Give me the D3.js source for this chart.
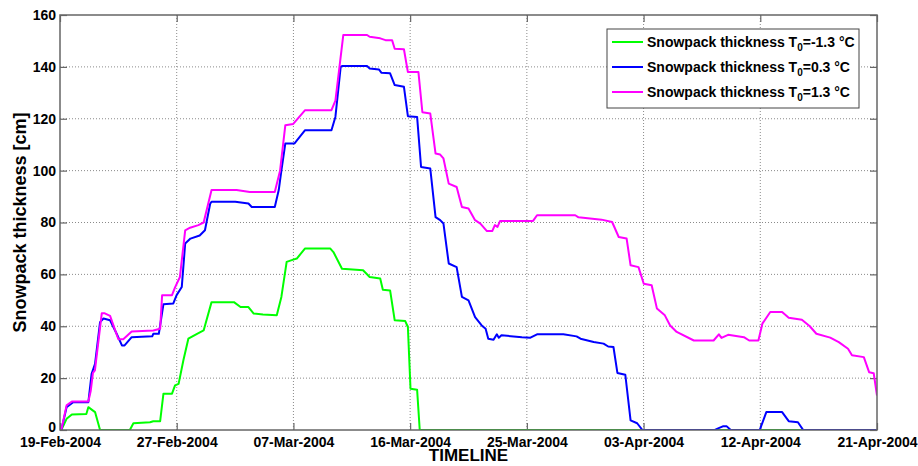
<!DOCTYPE html>
<html>
<head>
<meta charset="utf-8">
<script src="https://cdn.jsdelivr.net/npm/d3@7"></script>
<style>
  body { margin: 0; background: #fff; }
  svg { display: block; font-family: Arial, "Liberation Sans", sans-serif; }
</style>
</head>
<body>
<svg class="main" width="918" height="466"></svg>
<script>
// day offsets from 19-Feb-2004, snow thickness in cm
var snowCold = [[0.1,0],[0.5,4.3],[0.9,6],[2,6.2],[2.15,8.8],[2.66,6.9],[3.04,0],[5.3,0],[5.57,2.6],[6.83,3],[7.08,3.4],
    [7.6,3.4],[7.85,14],[8.5,14],[8.73,17.2],[9,17.8],[9.36,26.8],[9.74,35.2],[10.4,37.1],[10.9,38.4],[11.5,49.3],
    [13.2,49.3],[13.7,47.4],[14.3,47.4],[14.7,44.9],[15.4,44.5],[16.45,44.2],[16.8,51.3],[17.2,64.8],[17.7,65.7],
    [17.97,66.1],[18.6,70],[20.5,70],[20.75,68.6],[21.4,62.2],[23,61.6],[23.5,59],[24.3,58.4],[24.5,54.1],[25.05,53.8],
    [25.4,42.3],[26.2,42],[26.4,39.7],[26.6,15.9],[27.1,15.5],[27.3,0],[62,0]];

var snowMid = [[0.1,0],[0.5,8.8],[1,10.7],[2.15,10.7],[2.4,21.7],[2.66,25.5],[3.04,41.6],[3.3,43],[3.8,42.3],[4.3,37.1],
    [4.7,32.6],[4.9,32.6],[5.44,35.8],[7,36.1],[7.08,37.1],[7.5,37.1],[7.85,48.5],[8.6,48.8],[8.85,52],[9.24,55.1],
    [9.5,71.9],[9.9,73.8],[10.6,75],[11,77],[11.4,87.3],[11.5,88],[13.3,88],[14.3,87.3],[14.55,86],[16.3,86],[16.6,92.5],
    [16.8,100],[17.1,110.5],[17.8,110.5],[18.1,112.4],[18.6,115.6],[20.6,115.6],[20.9,120.7],[21.3,140],[21.4,140.3],
    [23.3,140.3],[23.5,139.4],[24.2,139],[24.4,137.7],[25.05,137.5],[25.4,133],[26.1,132.3],[26.4,121],[27.1,120.7],
    [27.4,101.4],[28.1,100.8],[28.5,82.1],[28.85,80.9],[29.1,79.6],[29.5,64.2],[30.1,62.8],[30.5,51.3],[31,50],
    [31.5,43.5],[32,40.3],[32.3,39],[32.5,35.2],[32.9,34.8],[33.15,36.9],[33.3,35.6],[33.5,36.5],[35.05,35.8],
    [35.7,35.6],[36.2,36.9],[38.2,36.9],[39.2,36.1],[39.5,35.2],[40.5,33.9],[41.25,33.3],[41.6,32.2],[42,32],[42.3,22],
    [42.9,21.3],[43.3,3.7],[43.8,2.6],[44.2,0],[49.7,0],[49.9,0.5],[50.3,1.4],[50.6,1.4],[50.9,0],[53.1,0],[53.6,6.9],
    [54.8,6.9],[55.3,3.4],[56,3],[56.4,0],[62,0]];

var snowWarm = [[0.1,0],[0.5,9.5],[0.9,11],[2.15,11],[2.33,15],[2.5,22],[2.65,23],[3.17,45],[3.4,45],[3.8,44],[4.43,35],
    [4.8,35],[5.44,38],[7.08,38.4],[7.6,39],[7.75,52],[8.5,52],[8.73,55],[9.1,59],[9.5,77],[9.87,78],[10.5,79],[10.9,80],
    [11.5,92.5],[13.4,92.5],[14.4,91.8],[16.3,91.8],[16.7,100],[17.1,117.5],[17.7,118],[18.6,123.3],[20.6,123.3],
    [20.9,127],[21.5,152.3],[23.3,152.3],[23.5,151.6],[24.3,151],[24.7,150.3],[25.2,150.3],[25.4,147],[26.1,146.8],
    [26.4,138],[27.2,138],[27.5,122.5],[28.1,122],[28.5,106.6],[28.85,106.2],[29.1,104.7],[29.5,95],[30.1,93.7],
    [30.5,86],[31,85.4],[31.5,80.9],[31.9,79.6],[32.4,76.7],[32.8,76.7],[33,79],[33.2,78.3],[33.4,80.6],[35.9,80.6],
    [36.2,82.8],[39.1,82.8],[39.35,82],[41.1,81.1],[41.9,80.2],[42.4,74.4],[43,73.8],[43.3,63.5],[43.9,62.8],[44.3,56.4],
    [44.9,55.8],[45.3,46.8],[45.9,44.2],[46.3,40.3],[46.8,37.8],[48.1,34.5],[49.6,34.5],[50,36.9],[50.2,35.5],
    [50.7,36.7],[51.9,35.8],[52.3,34.5],[53,34.5],[53.3,41],[53.9,45.5],[54.8,45.5],[55.3,43.3],[56.3,42.5],[56.9,40],
    [57.4,37.1],[58.45,35.6],[59.1,33.9],[59.8,31.3],[60.1,28.8],[61,28.1],[61.4,22.3],[61.75,21.9],[62,13.3]];

var seriesNames = ['-1.3', '0.3', '1.3'],
    seriesColors = ['#00ff00', '#0000ff', '#ff00ff'],
    yTicks = [0, 20, 40, 60, 80, 100, 120, 140, 160],
    startDate = new Date(2004, 1, 19),
    endDate = new Date(2004, 3, 21);

var margin = {top: 15, right: 41, bottom: 36, left: 60},
    width = 918 - margin.left - margin.right,
    height = 466 - margin.top - margin.bottom,
    tickLen = 7,
    dayMs = 864e5;

var svg = d3.select('.main');

var x = d3.scaleTime()
    .domain([startDate, endDate])
    .range([margin.left, margin.left + width]);

var y = d3.scaleLinear()
    .domain([0, 160])
    .range([margin.top + height, margin.top]);

// MATLAB style: 7 evenly spaced date ticks
var xTicks = d3.range(8).map(function(i) {
    return new Date(+startDate + i * (endDate - startDate) / 7);
});

function toDate(d) {
    return new Date(+startDate + d * dayMs);
}

// grid
var grid = svg.append('g').attr('class', 'grid');
grid.selectAll('.gx')
    .data(xTicks.slice(1, -1))
    .enter().append('line')
    .attr('x1', d => x(d)).attr('x2', d => x(d))
    .attr('y1', margin.top).attr('y2', margin.top + height)
    .attr('stroke', '#8a8a8a')
    .attr('stroke-dasharray', '1,2');
grid.selectAll('.gy')
    .data(yTicks.slice(1, -1))
    .enter().append('line')
    .attr('y1', d => y(d)).attr('y2', d => y(d))
    .attr('x1', margin.left).attr('x2', margin.left + width)
    .attr('stroke', '#8a8a8a')
    .attr('stroke-dasharray', '1,2');

// axes
var xAxis = d3.axisBottom(x)
    .tickValues(xTicks)
    .tickFormat(d3.timeFormat('%d-%b-%Y'))
    .tickSize(-tickLen)
    .tickPadding(7);

var yAxis = d3.axisLeft(y)
    .tickValues(yTicks)
    .tickSize(-tickLen)
    .tickPadding(4);

var gX = svg.append('g')
    .attr('transform', `translate(0,${margin.top + height})`)
    .call(xAxis);

var gY = svg.append('g')
    .attr('transform', `translate(${margin.left},0)`)
    .call(yAxis);

// mirrored ticks on top and right
svg.append('g')
    .attr('transform', `translate(0,${margin.top})`)
    .call(d3.axisTop(x).tickValues(xTicks).tickSize(-tickLen).tickFormat(''));
svg.append('g')
    .attr('transform', `translate(${margin.left + width},0)`)
    .call(d3.axisRight(y).tickValues(yTicks).tickSize(-tickLen).tickFormat(''));

svg.selectAll('.domain').remove();
svg.selectAll('.tick line')
    .attr('stroke', '#666')
    .attr('stroke-width', 1.2);
svg.selectAll('.tick text')
    .attr('fill', '#000')
    .style('font-size', '14px')
    .style('font-weight', 'bold');

// nudge the "0" label up a little so it clears the first date
gY.selectAll('.tick text')
    .filter(d => d === 0)
    .attr('dy', '0.1em');

// lines
svg.append('clipPath')
    .attr('id', 'clip')
    .append('rect')
    .attr('x', margin.left).attr('y', margin.top - 1)
    .attr('width', width).attr('height', height + 1);

var line = d3.line()
    .x(d => x(toDate(d[0])))
    .y(d => y(d[1]));

svg.append('g')
    .attr('clip-path', 'url(#clip)')
    .selectAll('path')
    .data([snowCold, snowMid, snowWarm])
    .enter().append('path')
    .attr('d', line)
    .attr('fill', 'none')
    .attr('stroke', (d, i) => seriesColors[i])
    .attr('stroke-width', 2)
    .attr('stroke-linejoin', 'round');

// frame
svg.append('rect')
    .attr('x', margin.left).attr('y', margin.top)
    .attr('width', width).attr('height', height)
    .attr('fill', 'none')
    .attr('stroke', '#666')
    .attr('stroke-width', 1.5);

// axis titles
svg.append('text')
    .attr('x', margin.left + width / 2)
    .attr('y', 461)
    .attr('text-anchor', 'middle')
    .style('font-size', '17px')
    .style('font-weight', 'bold')
    .text('TIMELINE');

svg.append('text')
    .attr('transform', `translate(26,${margin.top + height / 2}) rotate(-90)`)
    .attr('text-anchor', 'middle')
    .style('font-size', '18px')
    .style('font-weight', 'bold')
    .text('Snowpack thickness [cm]');

// legend
var legend = svg.append('g')
    .attr('transform', 'translate(607,29)');

legend.append('rect')
    .attr('width', 252).attr('height', 79)
    .attr('fill', '#fff')
    .attr('stroke', '#444')
    .attr('stroke-width', 1);

var item = legend.selectAll('.item')
    .data(seriesNames)
    .enter().append('g')
    .attr('transform', (d, i) => `translate(0,${13 + i * 25})`);

item.append('line')
    .attr('x1', 5).attr('x2', 36)
    .attr('stroke', (d, i) => seriesColors[i])
    .attr('stroke-width', 2);

var label = item.append('text')
    .attr('x', 40)
    .attr('y', 5)
    .style('font-size', '14px')
    .style('font-weight', 'bold');
label.append('tspan').text('Snowpack thickness T');
label.append('tspan').attr('dy', 4).style('font-size', '10px').text('0');
label.append('tspan').attr('dy', -4).text(d => `=${d} \u00b0C`);
</script>
</body>
</html>
